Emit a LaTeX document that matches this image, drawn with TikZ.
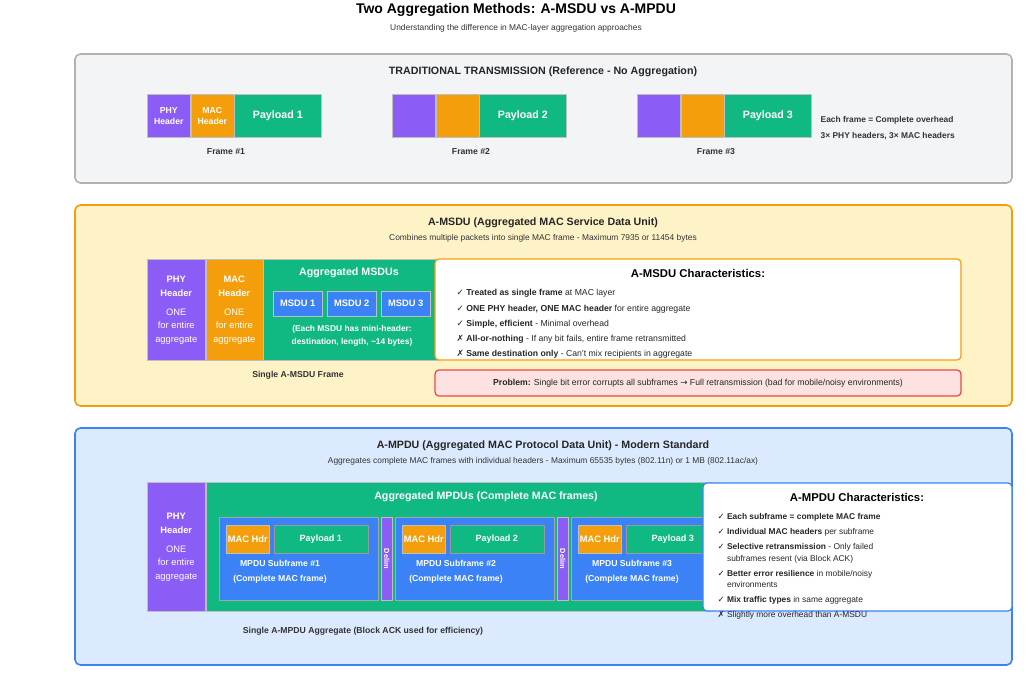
\documentclass[tikz,border=0pt]{standalone}
\usepackage{fontspec}
\setmainfont{Liberation Sans}
\newfontfamily\symf{DejaVu Sans}
\usetikzlibrary{positioning}
\definecolor{cPhy}{HTML}{8B5CF6}
\definecolor{cMac}{HTML}{F59E0B}
\definecolor{cPay}{HTML}{10B981}
\definecolor{cSub}{HTML}{3B82F6}
\definecolor{cGray}{HTML}{F3F4F6}
\definecolor{cYel}{HTML}{FEF3C7}
\definecolor{cBlu}{HTML}{DBEAFE}
\definecolor{cRed}{HTML}{FEE2E2}
\definecolor{cRedB}{HTML}{EF4444}
\newcommand{\ok}{{\symf ✓}}
\newcommand{\no}{{\symf ✗}}
\tikzstyle{panel} = [rectangle, rounded corners=4pt, line width=1.2pt]
\tikzstyle{blk} = [rectangle, draw=black!25, text=white, font=\fontsize{7}{10}\selectfont\bfseries, align=center, inner sep=0pt]
\tikzstyle{lbl} = [font=\fontsize{6.5}{8}\selectfont\bfseries, text=black!80]
\tikzstyle{ttl} = [font=\fontsize{8}{10}\selectfont\bfseries, text=black!85]
\tikzstyle{sub} = [font=\fontsize{6.3}{8}\selectfont, text=black!80]
\tikzstyle{lst} = [font=\fontsize{6.5}{11.3}\selectfont, text=black!85, align=left, anchor=north west]
\begin{document}
\begin{tikzpicture}[x=0.75pt,y=-0.75pt]
\useasboundingbox[fill=white] (0,0) rectangle (1032,675);

\node (title) [font=\fontsize{10.5}{12}\selectfont\bfseries] at (516,10) {Two Aggregation Methods: A-MSDU vs A-MPDU};
\node (subtitle) [sub] at (516,28) {Understanding the difference in MAC-layer aggregation approaches};

% traditional
\draw[panel, fill=cGray, draw=black!30] (75,54) rectangle (1012,183);
\node (tradT) [ttl] at (543,72) {TRADITIONAL TRANSMISSION (Reference - No Aggregation)};
\foreach \i/\x in {1/147,2/392,3/637}{
  \node (phy\i) [blk, fill=cPhy, minimum width=32.25pt, minimum height=32.25pt, anchor=north west] at (\x,94) {};
  \node (mac\i) [blk, fill=cMac, minimum width=32.25pt, minimum height=32.25pt, right=0pt of phy\i] {};
  \node (pay\i) [blk, fill=cPay, minimum width=65.25pt, minimum height=32.25pt, right=0pt of mac\i, font=\fontsize{8}{10}\selectfont\bfseries] {Payload \i};
  \node (lab\i) [lbl] at (\x+79,152) {Frame \#\i};
}
\node at (phy1) [text=white, font=\fontsize{6.5}{8}\selectfont\bfseries, align=center] {PHY\\Header};
\node at (mac1) [text=white, font=\fontsize{6.5}{8}\selectfont\bfseries, align=center] {MAC\\Header};
\node (note) [lbl, anchor=north west, align=left, font=\fontsize{6.3}{12}\selectfont\bfseries] at (816,112) {Each frame = Complete overhead\\3× PHY headers, 3× MAC headers};

% A-MSDU
\draw[panel, fill=cYel, draw=cMac] (75,205) rectangle (1012,406);
\node (msduT) [ttl] at (543,223) {A-MSDU (Aggregated MAC Service Data Unit)};
\node (msduS) [sub] at (543,238) {Combines multiple packets into single MAC frame - Maximum 7935 or 11454 bytes};
\node (mphy) [blk, fill=cPhy, minimum width=43.5pt, minimum height=75.75pt, anchor=north west] at (147,259)
  {PHY\\[1pt]Header\\[4pt]{\mdseries ONE}\\{\mdseries for entire}\\{\mdseries aggregate}};
\node (mmac) [blk, fill=cMac, minimum width=42.75pt, minimum height=75.75pt, right=0pt of mphy]
  {MAC\\[1pt]Header\\[4pt]{\mdseries ONE}\\{\mdseries for entire}\\{\mdseries aggregate}};
\node (magg) [blk, fill=cPay, minimum width=131.25pt, minimum height=75.75pt, right=0pt of mmac] {};
\node (maggT) [text=white, font=\fontsize{8}{10}\selectfont\bfseries] at (349,273) {Aggregated MSDUs};
\foreach \i/\x in {1/273,2/327,3/381}
  \node (msdu\i) [blk, fill=cSub, minimum width=36.75pt, minimum height=18.75pt, anchor=north west] at (\x,291) {MSDU \i};
\node (mnote) [text=white, font=\fontsize{6.3}{9.5}\selectfont\bfseries, align=center] at (352,336) {(Each MSDU has mini-header:\\destination, length, \textasciitilde14 bytes)};
\node (mframe) [lbl] at (298,375) {Single A-MSDU Frame};
\draw[rounded corners=3pt, fill=white, draw=cMac, line width=0.9pt] (435,259) rectangle (961,360);
\node (mchT) [font=\fontsize{8.5}{10}\selectfont\bfseries] at (698,273) {A-MSDU Characteristics:};
\node (mlist) [lst] at (452,285) {%
\ok\ \textbf{Treated as single frame} at MAC layer\\
\ok\ \textbf{ONE PHY header, ONE MAC header} for entire aggregate\\
\ok\ \textbf{Simple, efficient} - Minimal overhead\\
\no\ \textbf{All-or-nothing} - If any bit fails, entire frame retransmitted\\
\no\ \textbf{Same destination only} - Can't mix recipients in aggregate};
\draw[rounded corners=3pt, fill=cRed, draw=cRedB, line width=0.9pt] (435,370) rectangle (961,396);
\node (prob) [font=\fontsize{6.5}{8}\selectfont, text=black!85] at (698,383) {\textbf{Problem:} Single bit error corrupts all subframes {\symf →} Full retransmission (bad for mobile/noisy environments)};

% A-MPDU
\draw[panel, fill=cBlu, draw=cSub] (75,428) rectangle (1012,665);
\node (mpduT) [ttl] at (543,446) {A-MPDU (Aggregated MAC Protocol Data Unit) - Modern Standard};
\node (mpduS) [sub] at (543,461) {Aggregates complete MAC frames with individual headers - Maximum 65535 bytes (802.11n) or 1 MB (802.11ac/ax)};
\node (pphy) [blk, fill=cPhy, minimum width=43.5pt, minimum height=96.75pt, anchor=north west] at (147,482)
  {PHY\\[1pt]Header\\[4pt]{\mdseries ONE}\\{\mdseries for entire}\\{\mdseries aggregate}};
\node (pagg) [blk, fill=cPay, minimum width=380pt, minimum height=96.75pt, right=0pt of pphy] {};
\node (paggT) [text=white, font=\fontsize{8}{10}\selectfont\bfseries] at (486,497) {Aggregated MPDUs (Complete MAC frames)};
\foreach \i/\x in {1/219,2/395,3/571}{
  \node (sf\i) [blk, fill=cSub, minimum width=119.25pt, minimum height=62.25pt, anchor=north west, draw=black!35] at (\x,517) {};
  \node (hdr\i) [blk, fill=cMac, minimum width=32.25pt, minimum height=21pt, anchor=north west] at (\x+7,525) {MAC Hdr};
  \node (pl\i) [blk, fill=cPay, minimum width=70.5pt, minimum height=21pt, right=3pt of hdr\i, draw=black!40, font=\fontsize{6.8}{8}\selectfont\bfseries] {Payload \i};
  \node (sfT\i) [text=white, font=\fontsize{6.5}{11}\selectfont\bfseries, align=center] at (\x+61,572) {MPDU Subframe \#\i\\(Complete MAC frame)};
}
\foreach \i/\x in {1/381,2/557}
  \node (dl\i) [blk, fill=cPhy, minimum width=8.25pt, minimum height=62.25pt, anchor=north west, font=\fontsize{5.5}{6}\selectfont\bfseries] at (\x,517) {\rotatebox{-90}{Delim}};
\draw[rounded corners=3pt, fill=white, draw=cSub, line width=0.9pt] (703,483) rectangle (1012,611);
\node (pchT) [font=\fontsize{8.5}{10}\selectfont\bfseries] at (857,497) {A-MPDU Characteristics:};
\node (plist) [lst, font=\fontsize{6.3}{8.3}\selectfont] at (713,509) {%
\ok\ \textbf{Each subframe = complete MAC frame}\\[3pt]
\ok\ \textbf{Individual MAC headers} per subframe\\[3pt]
\ok\ \textbf{Selective retransmission} - Only failed\\
\phantom{\ok\ }subframes resent (via Block ACK)\\[3pt]
\ok\ \textbf{Better error resilience} in mobile/noisy\\
\phantom{\ok\ }environments\\[3pt]
\ok\ \textbf{Mix traffic types} in same aggregate\\[3pt]
\no\ Slightly more overhead than A-MSDU};
\node (pframe) [lbl] at (363,631) {Single A-MPDU Aggregate (Block ACK used for efficiency)};
\end{tikzpicture}
\end{document}
